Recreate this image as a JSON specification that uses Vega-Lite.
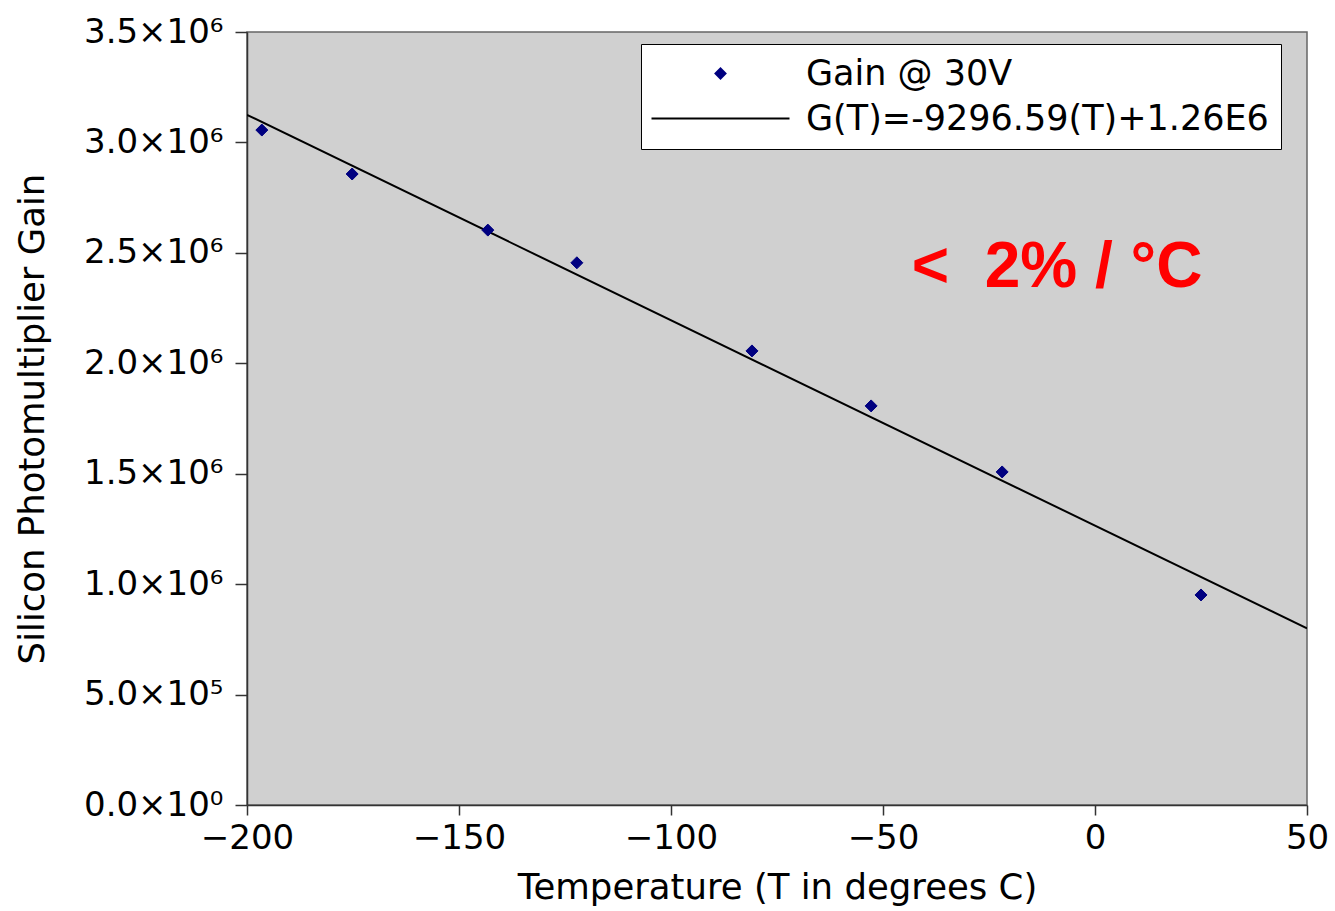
{
  "$schema": "https://vega.github.io/schema/vega-lite/v6.json",
  "width": 1060,
  "height": 773,
  "autosize": {"type": "none"},
  "padding": {"left": 247, "top": 32, "right": 28, "bottom": 106},
  "background": "#ffffff",
  "config": {
    "view": {"fill": "#d0d0d0", "stroke": "#666666", "strokeWidth": 1.5},
    "font": "DejaVu Sans",
    "axis": {
      "labelFont": "DejaVu Sans",
      "labelFontSize": 34,
      "labelColor": "#000000",
      "titleFont": "DejaVu Sans",
      "titleFontSize": 35.5,
      "titleFontWeight": "normal",
      "titleColor": "#000000",
      "domainColor": "#333333",
      "domainWidth": 1.5,
      "tickColor": "#333333",
      "tickWidth": 1.5,
      "grid": false
    },
    "legend": {
      "title": null,
      "orient": "none",
      "legendX": 394,
      "legendY": 12,
      "padding": 12,
      "fillColor": "#ffffff",
      "strokeColor": "#000000",
      "labelFont": "DejaVu Sans",
      "labelFontSize": 35,
      "labelColor": "#000000",
      "labelLimit": 700,
      "labelOffset": 68,
      "symbolOffset": 50,
      "symbolSize": 100,
      "rowPadding": 9,
      "symbolStrokeWidth": 2
    }
  },
  "layer": [
    {
      "data": {"values": [
        {"T": -200, "G": 3125000},
        {"T": 50, "G": 800000}
      ]},
      "mark": {"type": "line", "color": "#000000", "strokeWidth": 2, "clip": true},
      "encoding": {
        "x": {"field": "T", "type": "quantitative"},
        "y": {"field": "G", "type": "quantitative"}
      }
    },
    {
      "data": {"values": [
        {"T": -196.5, "G": 3056000, "series": "Gain @ 30V"},
        {"T": -175.2, "G": 2857000, "series": "Gain @ 30V"},
        {"T": -143.2, "G": 2603000, "series": "Gain @ 30V"},
        {"T": -122.2, "G": 2455000, "series": "Gain @ 30V"},
        {"T": -80.9, "G": 2056000, "series": "Gain @ 30V"},
        {"T": -52.8, "G": 1807000, "series": "Gain @ 30V"},
        {"T": -21.9, "G": 1508000, "series": "Gain @ 30V"},
        {"T": 25.0, "G": 951000, "series": "Gain @ 30V"}
      ]},
      "mark": {"type": "point", "filled": true, "size": 144, "strokeWidth": 1, "opacity": 1},
      "encoding": {
        "x": {
          "field": "T", "type": "quantitative",
          "scale": {"domain": [-200, 50], "nice": false, "zero": false},
          "axis": {
            "values": [-200, -150, -100, -50, 0, 50],
            "title": "Temperature (T in degrees C)",
            "tickSize": 10,
            "labelPadding": 6,
            "labelFlush": false,
            "titleY": 82,
            "titleBaseline": "middle"
          }
        },
        "y": {
          "field": "G", "type": "quantitative",
          "scale": {"domain": [0, 3500000], "nice": false},
          "axis": {
            "values": [0, 500000, 1000000, 1500000, 2000000, 2500000, 3000000, 3500000],
            "labelExpr": "datum.value == 0 ? '0.0×10⁰' : (datum.value < 1000000 ? format(datum.value/100000, '.1f') + '×10⁵' : format(datum.value/1000000, '.1f') + '×10⁶')",
            "title": "Silicon Photomultiplier Gain",
            "tickSize": 12,
            "labelPadding": 12,
            "labelFlush": false,
            "titleX": -215,
            "titleBaseline": "middle"
          }
        },
        "color": {
          "field": "series", "type": "nominal",
          "scale": {"domain": ["Gain @ 30V", "G(T)=-9296.59(T)+1.26E6"], "range": ["#000080", "#000000"]}
        },
        "stroke": {
          "field": "series", "type": "nominal",
          "scale": {"domain": ["Gain @ 30V", "G(T)=-9296.59(T)+1.26E6"], "range": ["#000080", "#000000"]}
        },
        "shape": {
          "field": "series", "type": "nominal",
          "scale": {"domain": ["Gain @ 30V", "G(T)=-9296.59(T)+1.26E6"], "range": ["diamond", "M-13.8,0L13.8,0"]}
        }
      }
    },
    {
      "data": {"values": [{"T": -43.2, "G": 2430000, "label": "<\u00a0\u00a02%\u00a0/\u00a0°C"}]},
      "mark": {"type": "text", "align": "left", "baseline": "middle", "font": "Liberation Sans", "fontWeight": "bold", "fontSize": 64, "color": "#ff0000"},
      "encoding": {
        "x": {"field": "T", "type": "quantitative"},
        "y": {"field": "G", "type": "quantitative"},
        "text": {"field": "label"}
      }
    }
  ]
}
